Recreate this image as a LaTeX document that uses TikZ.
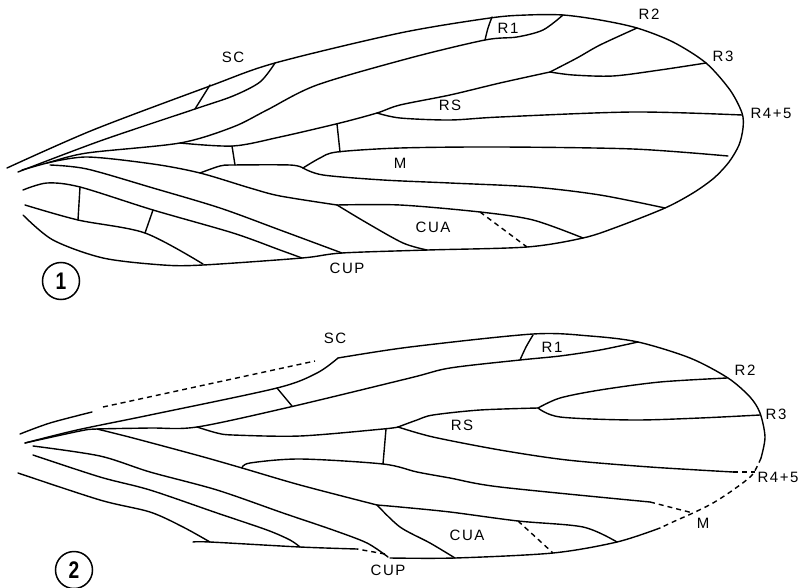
\documentclass[tikz,border=0pt]{standalone}
\usepackage{fontspec}
\newfontfamily\wingfont[LetterSpace=10]{Liberation Sans}
\begin{document}
\begin{tikzpicture}
    [
    x=1pt,y=-1pt,
    vein/.style={line width=1.4pt,line cap=round,line join=round},
    gap/.style={line width=1.4pt,dash pattern=on 5pt off 4pt},
    tag/.style={font=\wingfont\fontsize{15}{17}\selectfont,inner sep=1pt},
    num/.style={circle,draw,line width=1.5pt,minimum size=37pt,inner sep=0pt,font=\wingfont\bfseries\fontsize{24}{26}\selectfont}
    ]
    \useasboundingbox (0,0) rectangle (810,588);
    % wing 1
    \coordinate (ra) at (47,163);
    \coordinate (rsa) at (180,143);
    \coordinate (sca) at (195,109);
    \coordinate (ma) at (200,173);
    \coordinate (mfa) at (303,168);
    \coordinate (rfa) at (377,113);
    \coordinate (rra) at (550,72);
    \coordinate (r1a) at (485,40);
    \coordinate (cua) at (337,205);
    \coordinate (caa) at (480,212);
    \coordinate (ana) at (80,187);
    \coordinate (anb) at (153,210);
    \draw [vein] plot [smooth] coordinates {(7,168) (93,130) (210,86) (275,63) (400,33) (490,18) (527,15) (563,15) (600,20) (637,28) (673,42) (706,63) (730,90) (742,113) (743,128) (739,145) (729,162) (714,178) (693,193) (665,208) (617,227) (583,238) (527,247) (428,250) (342,253) (302,258) (203,265) (163,265) (103,258) (53,240) (23,215)};
    \draw [vein] plot [smooth] coordinates {(18,172) (100,141) (sca) (233,96) (260,82) (275,63)};
    \draw [vein] (sca) -- (210,85);
    \draw [vein] plot [smooth] coordinates {(22,170) (ra) (87,153) (rsa) (233,127) (267,110) (317,85) (410,58) (r1a) (517,37) (543,30) (563,15)};
    \draw [vein] plot [smooth] coordinates {(r1a) (488,28) (492,17)};
    \draw [vein] plot [smooth] coordinates {(rsa) (233,146) (280,137) (340,123) (rfa) (400,105) (450,95) (500,83) (rra)};
    \draw [vein] plot [smooth] coordinates {(rra) (577,58) (600,45) (637,28)};
    \draw [vein] plot [smooth] coordinates {(rra) (573,75) (613,76) (660,70) (706,63)};
    \draw [vein] plot [smooth] coordinates {(rfa) (400,118) (450,120) (500,117) (633,112) (742,115)};
    \draw [vein] (232,146) -- (235,165);
    \draw [vein] (337,124) -- (340,152);
    \draw [vein] plot [smooth] coordinates {(ma) (220,166) (233,165) (290,165) (mfa)};
    \draw [vein] plot [smooth] coordinates {(mfa) (320,158) (337,152) (400,148) (500,147) (633,149) (728,156)};
    \draw [vein] plot [smooth] coordinates {(mfa) (323,175) (383,180) (450,183) (533,187) (600,195) (665,208)};
    \draw [vein] plot [smooth] coordinates {(ra) (87,157) (153,164) (ma) (250,188) (280,196) (cua)};
    \draw [vein] plot [smooth] coordinates {(cua) (400,205) (caa) (533,220) (583,238)};
    \draw [vein] plot [smooth] coordinates {(cua) (367,223) (403,243) (427,250)};
    \draw [gap] (caa) -- (527,247);
    \draw [vein] plot [smooth] coordinates {(50,165) (87,169) (153,188) (220,208) (280,230) (342,253)};
    \draw [vein] plot [smooth] coordinates {(23,190) (47,183) (ana) (anb) (233,233) (280,250) (302,258)};
    \draw [vein] plot [smooth] coordinates {(25,205) (78,220) (145,233) (203,264)};
    \draw [vein] (ana) -- (78,220);
    \draw [vein] (anb) -- (145,233);
    \node (sc1) at (233,57) [tag] {SC};
    \node (r11) at (508,28) [tag] {R1};
    \node (r21) at (649,14) [tag] {R2};
    \node (r31) at (723,56) [tag] {R3};
    \node (r451) at (771,113) [tag] {R4+5};
    \node (rs1) at (450,105) [tag] {RS};
    \node (m1) at (400,163) [tag] {M};
    \node (cua1) at (433,227) [tag] {CUA};
    \node (cup1) at (347,268) [tag] {CUP};
    \node (one) at (61,281) [num] {\scalebox{0.8}[1]{1}};
    % wing 2
    \coordinate (rb) at (97,429);
    \coordinate (rsb) at (197,427);
    \coordinate (scb) at (277,388);
    \coordinate (r1b) at (520,360);
    \coordinate (rfb) at (398,427);
    \coordinate (rrb) at (538,408);
    \coordinate (mb) at (242,468);
    \coordinate (cub) at (377,505);
    \coordinate (cab) at (518,521);
    \draw [vein] plot [smooth] coordinates {(20,434) (50,423) (92,412)};
    \draw [gap] (103,407) -- (315,361);
    \draw [vein] plot [smooth] coordinates {(338,358) (410,347) (533,334) (590,336) (638,342) (690,358) (728,378) (750,397) (760,413) (765,437) (761,458)};
    \draw [gap] plot [smooth] coordinates {(761,458) (752,475) (733,490) (713,503) (693,513) (675,521) (660,528)};
    \draw [vein] plot [smooth] coordinates {(660,528) (617,542) (553,553) (455,558) (390,558)};
    \draw [gap] (385,554) -- (357,549);
    \draw [vein] plot [smooth] coordinates {(357,549) (300,547) (210,542) (193,542)};
    \draw [vein] plot [smooth] coordinates {(25,443) (77,430) (150,415) (scb) (317,373) (338,358)};
    \draw [vein] (scb) -- (292,406);
    \draw [vein] plot [smooth] coordinates {(25,443) (80,431) (rb) (150,428) (rsb) (290,407) (410,378) (450,368) (r1b) (560,356) (600,350) (638,342)};
    \draw [vein] plot [smooth] coordinates {(r1b) (526,347) (533,335)};
    \draw [vein] plot [smooth] coordinates {(rsb) (217,433) (233,435) (300,436) (383,429) (rfb)};
    \draw [vein] plot [smooth] coordinates {(rfb) (417,420) (433,415) (480,410) (rrb)};
    \draw [vein] plot [smooth] coordinates {(rrb) (560,398) (600,390) (660,382) (727,378)};
    \draw [vein] plot [smooth] coordinates {(rrb) (560,417) (633,420) (700,418) (760,415)};
    \draw [vein] plot [smooth] coordinates {(rfb) (433,437) (500,450) (567,460) (650,467) (733,472)};
    \draw [gap] (733,472) -- (755,472);
    \draw [vein] (386,429) -- (383,464);
    \draw [vein] plot [smooth] coordinates {(mb) (250,463) (300,459) (383,464) (417,472) (450,478) (500,487) (650,502)};
    \draw [gap] (650,502) -- (693,513);
    \draw [vein] plot [smooth] coordinates {(rb) (133,438) (200,456) (mb) (300,485) (cub)};
    \draw [vein] plot [smooth] coordinates {(cub) (400,507) (450,512) (cab) (583,527) (617,542)};
    \draw [vein] plot [smooth] coordinates {(cub) (400,527) (430,543) (455,558)};
    \draw [gap] (cab) -- (553,553);
    \draw [vein] plot [smooth] coordinates {(33,446) (100,456) (150,472) (217,490) (283,513) (333,530) (367,543) (388,557)};
    \draw [vein] plot [smooth] coordinates {(33,455) (100,477) (150,490) (217,513) (267,530) (290,540) (300,547)};
    \draw [vein] plot [smooth] coordinates {(18,473) (100,500) (150,512) (183,527) (210,542)};
    \node (sc2) at (335,338) [tag] {SC};
    \node (r12) at (552,347) [tag] {R1};
    \node (r22) at (745,370) [tag] {R2};
    \node (r32) at (776,414) [tag] {R3};
    \node (r452) at (778,477) [tag] {R4+5};
    \node (rs2) at (462,425) [tag] {RS};
    \node (m2) at (703,523) [tag] {M};
    \node (cua2) at (467,535) [tag] {CUA};
    \node (cup2) at (388,570) [tag] {CUP};
    \node (two) at (74,570) [num] {\scalebox{0.8}[1]{2}};
\end{tikzpicture}
\end{document}
